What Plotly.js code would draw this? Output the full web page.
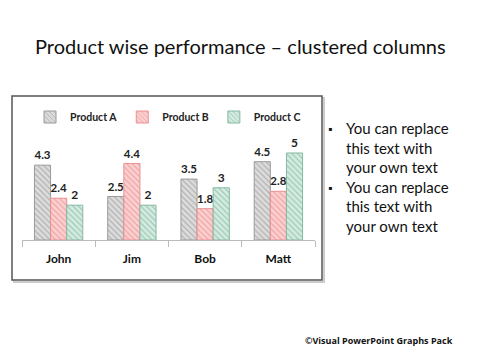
<!DOCTYPE html>
<html><head><meta charset="utf-8">
<script src="https://cdn.plot.ly/plotly-3.0.1.min.js"></script>
<style>html,body{margin:0;padding:0;background:#fff}#chart{width:480px;height:360px}</style>
</head><body><div id="chart"></div>
<script>
const categories = ["John", "Jim", "Bob", "Matt"];
const productA = [4.3, 2.5, 3.5, 4.5];
const productB = [2.4, 4.4, 1.8, 2.8];
const productC = [2, 2, 3, 5];
const seriesNames = ["Product A", "Product B", "Product C"];
const bulletLines = ["You can replace", "this text with", "your own text", "You can replace", "this text with", "your own text"];

const hand = "Lato, 'Open Sans', sans-serif";
const styles = [
  {fill: "#dcdcdc", line: "#9a9a9a", fg: "#a8a8a8"},
  {fill: "#fbd0d0", line: "#e89090", fg: "#ef9a9a"},
  {fill: "#d3ebe0", line: "#86b8a2", fg: "#93c2ad"}
];
const data = [productA, productB, productC].map((vals, i) => ({
  type: "bar", x: categories, y: vals, name: seriesNames[i],
  text: vals.map(String), textposition: "outside", cliponaxis: false,
  textfont: {family: hand, size: 12, color: "#222", weight: "bold"},
  marker: {color: styles[i].fill, line: {color: styles[i].line, width: 1},
    pattern: {shape: "\\", fgcolor: styles[i].fg, bgcolor: styles[i].fill, size: 4, solidity: 0.25}},
  hoverinfo: "skip"
}));

const W = 480, H = 360;
const m = {l: 22, r: 165, t: 110, b: 120};
const pw = W - m.l - m.r, ph = H - m.t - m.b;
function toPaper(px, py) { return [(px - m.l) / pw, (H - m.b - py) / ph]; }

const annotations = [];
function addText(text, px, py, xanchor, font) {
  const p = toPaper(px, py);
  annotations.push({text: text, x: p[0], y: p[1], xref: "paper", yref: "paper", showarrow: false,
    xanchor: xanchor, yanchor: "middle", font: font});
}
addText("Product wise performance \u2013 clustered columns", 240, 46, "center", {family: hand, size: 20, color: "#111"});
const lineY = [128, 148, 167, 187, 206, 226];
bulletLines.forEach((t, i) => addText(t, 344, lineY[i], "left", {family: hand, size: 15, color: "#111"}));
[0, 3].forEach(i => addText("\u25aa", 330, lineY[i], "center", {family: hand, size: 11, color: "#111"}));
addText("<b>\u00a9Visual PowerPoint Graphs Pack</b>", 455, 340, "right", {family: "'Open Sans', sans-serif", size: 9, color: "#111"});

const b0 = toPaper(12, 280), b1 = toPaper(322, 96);
const sb0 = toPaper(14, 282), sb1 = toPaper(324, 98);

const layout = {
  width: W, height: H, margin: m, paper_bgcolor: "#fff", plot_bgcolor: "rgba(0,0,0,0)",
  showlegend: true, barmode: "group", bargap: 0.34, bargroupgap: 0.0,
  legend: {orientation: "h", x: toPaper(168, 0)[0], xanchor: "center", y: toPaper(0, 117)[1], yanchor: "middle",
    font: {family: hand, size: 10.5, color: "#222", weight: "bold"}, itemwidth: 30,
    tracegroupgap: 0, bgcolor: "rgba(0,0,0,0)"},
  xaxis: {showgrid: false, showline: true, linecolor: "#bbb", linewidth: 1, ticks: "outside", tickson: "boundaries",
    ticklen: 6, tickcolor: "#bbb", ticklabelstandoff: 8, tickfont: {family: hand, size: 12, color: "#111", weight: "bold"}, fixedrange: true},
  yaxis: {range: [0, 7.47], visible: false, fixedrange: true},
  shapes: [
    {type: "rect", xref: "paper", yref: "paper", x0: sb0[0], y0: sb0[1], x1: sb1[0], y1: sb1[1], line: {color: "#ccc", width: 2}, layer: "below"},
    {type: "rect", xref: "paper", yref: "paper", x0: b0[0], y0: b0[1], x1: b1[0], y1: b1[1], line: {color: "#555", width: 1.5}, fillcolor: "#fff", layer: "below"}
  ],
  annotations: annotations
};
Plotly.newPlot("chart", data, layout, {staticPlot: true, displayModeBar: false});
</script></body></html>
